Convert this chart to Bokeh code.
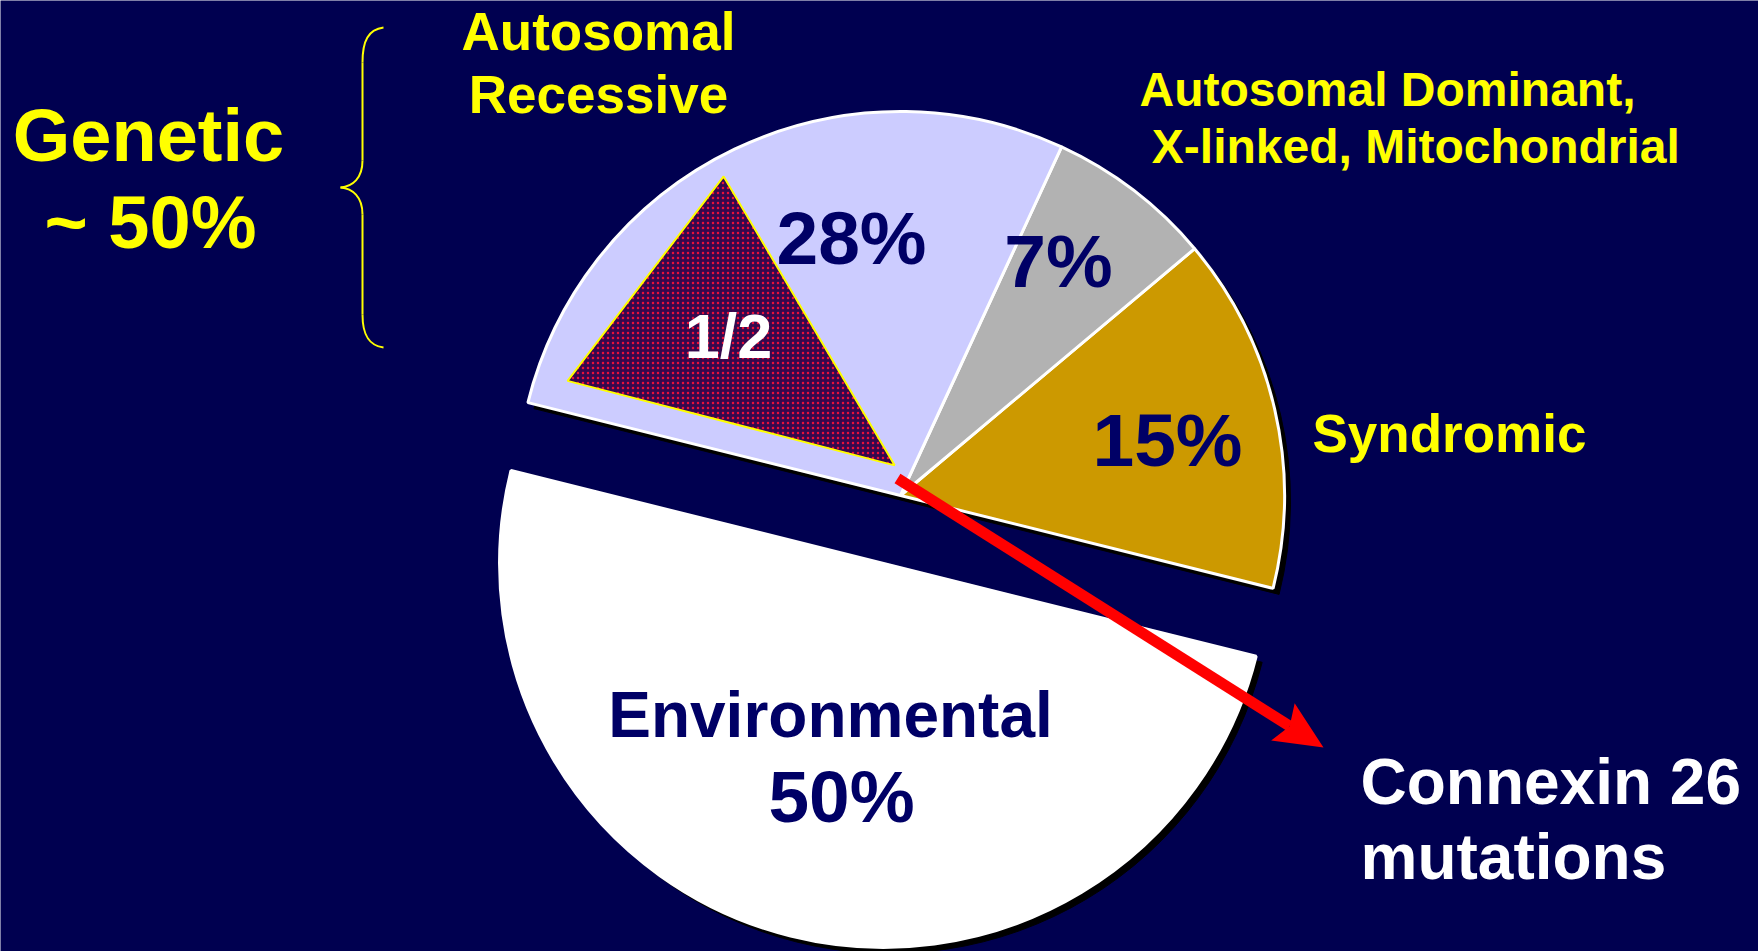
import numpy as np
from bokeh.plotting import figure
from bokeh.models import Range1d
from bokeh.core.properties import value
from bokeh.embed import file_html
from bokeh.resources import INLINE

# ---- data -------------------------------------------------------------
categories = ["Environmental", "Syndromic",
              "Autosomal Dominant, X-linked, Mitochondrial",
              "Autosomal Recessive"]
shares = [50, 15, 7, 28]
share_labels = ["50%", "15%", "7%", "28%"]
connexin_share_label = "1/2"
genetic_total_label = "~ 50%"

# ---- styling / layout -------------------------------------------------
W, H = 1758, 951
BG = "#000050"
NAVY = "#000066"
YELLOW = "#FFFF00"
RED = "#FF0000"
slice_colors = ["#FFFFFF", "#CC9900", "#B2B2B2", "#CCCCFF"]
FONT = value("Liberation Sans")


def sy(y):
    """Convert a top-down page coordinate into the upward y axis."""
    return H - y


CX, CY = 900, sy(495)          # centre of the genetic part of the pie
R = 384                        # pie radius
START = np.deg2rad(166)        # where the environmental slice begins
EXPLODE = [70, 0, 0, 0]        # pull-out distance of each slice
SHADOW = 6

p = figure(width=W, height=H, output_backend="svg", toolbar_location=None,
           x_range=Range1d(0, W), y_range=Range1d(0, H),
           min_border=0, x_axis_type=None, y_axis_type=None)
p.grid.visible = False
p.outline_line_color = None
p.background_fill_color = BG
p.border_fill_color = BG

# ---- pie slices ------------------------------------------------------
frac = np.array(shares, dtype=float) / sum(shares)
ends = START + np.cumsum(frac) * 2 * np.pi
starts = ends - frac * 2 * np.pi
mids = (starts + ends) / 2
xs = CX + np.array(EXPLODE) * np.cos(mids)
ys = CY + np.array(EXPLODE) * np.sin(mids)

p.wedge(x=xs + SHADOW, y=ys - SHADOW, radius=R, start_angle=starts,
        end_angle=ends, fill_color="black", line_color="black")
p.wedge(x=xs, y=ys, radius=R, start_angle=starts, end_angle=ends,
        fill_color=slice_colors, line_color="white", line_width=3)

# ---- Connexin 26 share of the recessive slice (triangle) -------------
tri_polar = [(0.95 * R, 119), (0.917 * R, 161), (0.08 * R, 101)]
tx = [CX + r * np.cos(np.deg2rad(a)) for r, a in tri_polar]
ty = [CY + r * np.sin(np.deg2rad(a)) for r, a in tri_polar]
p.patch(tx, ty, fill_color="#34084E", line_color=YELLOW, line_width=2,
        hatch_pattern="dot", hatch_color="#E8103A",
        hatch_scale=5, hatch_weight=2.2)

# ---- arrow to Connexin 26 label (shaft + head as polygons) -----------
a0 = np.array([897.0, sy(478)])
a1 = np.array([1323.0, sy(747)])
d = (a1 - a0) / np.linalg.norm(a1 - a0)
n = np.array([-d[1], d[0]])
half_w, head_len, head_half = 5.5, 48, 22
neck = a1 - d * head_len
back = a1 - d * (head_len - 8)
shaft = [a0 + n * half_w, back + n * half_w, back - n * half_w, a0 - n * half_w]
head = [a1, neck + n * head_half, back, neck - n * head_half]
p.patch([q[0] for q in shaft], [q[1] for q in shaft],
        fill_color=RED, line_color=None)
p.patch([q[0] for q in head], [q[1] for q in head],
        fill_color=RED, line_color=None)

# ---- brace grouping the genetic causes -------------------------------
brace_col = YELLOW
p.bezier(x0=[383, 362, 340, 362], y0=[sy(27), sy(160), sy(187), sy(314)],
         x1=[362, 340, 362, 383], y1=[sy(62), sy(187), sy(214), sy(347)],
         cx0=[368, 362, 352, 362], cy0=[sy(29), sy(178), sy(188), sy(334)],
         cx1=[362, 352, 362, 368], cy1=[sy(40), sy(186), sy(196), sy(345)],
         line_color=brace_col, line_width=2)
p.segment(x0=[362, 362], y0=[sy(62), sy(214)], x1=[362, 362],
          y1=[sy(160), sy(314)], line_color=brace_col, line_width=2)


# ---- text -------------------------------------------------------------
def txt(x, y, s, size, color, align="center"):
    p.text(x=[x], y=[sy(y)], text=[s], text_font=FONT,
           text_font_style="bold", text_font_size=f"{size}px",
           text_color=color, text_align=align,
           text_baseline="alphabetic")


# slice percentages
txt(851, 237, share_labels[3], 75, NAVY)
txt(1058, 260, share_labels[2], 75, NAVY)
txt(1167, 439, share_labels[1], 75, NAVY)
txt(830, 714, categories[0], 64, NAVY)
txt(841, 796, share_labels[0], 73, NAVY)
txt(728, 335, connexin_share_label, 63, "white")

# category names
txt(598, 31, "Autosomal", 53, YELLOW)
txt(598, 94, "Recessive", 53, YELLOW)
txt(1387, 89, "Autosomal Dominant,", 48, YELLOW)
txt(1422, 146, " X-linked, Mitochondrial", 48, YELLOW)
txt(1312, 433, categories[1], 53, YELLOW, align="left")
txt(148, 135, "Genetic", 74, YELLOW)
txt(150, 222, genetic_total_label, 74, YELLOW)
txt(1360, 781, "Connexin 26", 64, "white", align="left")
txt(1360, 856, "mutations", 64, "white", align="left")

open("out.html", "w").write(file_html(p, INLINE))
